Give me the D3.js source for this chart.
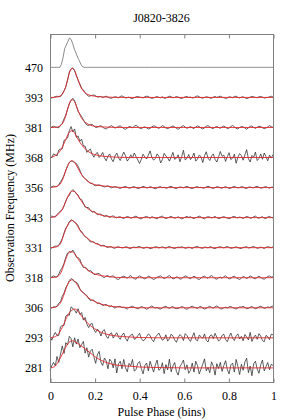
<!DOCTYPE html>
<html>
<head>
<meta charset="utf-8">
<script src="https://cdnjs.cloudflare.com/ajax/libs/d3/7.8.5/d3.min.js"></script>
<style>
body { margin: 0; background: #fff; }
svg { display: block; }
</style>
</head>
<body>
<div id="div_graph_id"></div>
<script>
// frequency labels, bottom (offset 0) to top (offset 10)
var freqLabels = ["281", "293", "306", "318", "331", "343", "356", "368", "381", "393", "470"];
var xTicks = [0, 0.2, 0.4, 0.6, 0.8, 1];
var title = "J0820-3826";

// observed profiles, 128 phase bins, in % of peak
var prof470 = [0,0,0,0,0,0,0,10,32,62, 74,86,98,93,78,60,47,33,22,10, 2,0,0,0,0,0,0,0,0,0,
  0,0,0,0,0,0,0,0,0,0, 0,0,0,0,0,0,0,0,0,0, 0,0,0,0,0,0,0,0,0,0, 0,0,0,0,0,0,0,0,0,0,
  0,0,0,0,0,0,0,0,0,0, 0,0,0,0,0,0,0,0,0,0, 0,0,0,0,0,0,0,0,0,0, 0,0,0,0,0,0,0,0,0,0,
  0,0,0,0,0,0,0,0,0,0, 0,0,0,0,0,0,0,0,0,0, 0,0,0,0,0,0,0,0];
var prof393 = [1,-2,0,3,4,2,3,11,23,35, 58,85,95,98,89,72,58,45,30,25, 15,9,4,5,7,8,5,1,2,3,
  -1,2,4,1,-2,-3,0,2,1,-1, 3,5,2,-2,-1,1,-3,-4,-1,2, 3,1,0,-2,2,4,3,-1,-3,-2, 1,3,0,-1,2,-3,-2,1,4,2,
  -1,0,3,1,-2,-4,-1,2,3,0, 1,-2,-1,3,5,2,-1,-3,0,2, 1,-2,-3,1,3,0,2,4,1,-1, -3,-2,2,1,-1,3,4,0,-2,1,
  2,-1,-4,-2,1,3,2,0,-1,2, 3,1,-2,-1,0,2,4,1];
var prof381 = [-3,2,4,2,0,-1,7,14,29,41, 61,78,90,97,89,72,53,45,36,26, 15,8,7,10,10,5,0,1,4,6,
  1,-3,-5,-1,3,6,2,-2,0,4, 5,1,-4,-6,-2,3,2,-1,4,7, 3,-2,-4,0,2,-1,-5,-3,2,5, 4,0,-3,1,6,3,-2,-4,-1,2,
  5,2,-3,-6,-2,4,6,1,-3,0, 3,-1,-4,2,5,3,-2,-5,-1,4, 6,2,-2,-4,1,3,0,-3,2,5, 1,-4,-2,3,7,2,-3,-5,0,3,
  2,-2,-6,-1,4,5,0,-3,1,4, 3,-1,-4,-2,2,6,3,0];
var prof368 = [5,-1,12,9,5,25,28,29,57,60, 65,89,103,85,95,67,72,54,61,38, 38,17,24,28,11,1,12,17,0,6,
  17,-1,-11,5,12,-5,-14,5,15,-1, -10,4,18,6,-12,-4,9,-2,15,3, -8,-20,-6,11,2,-5,8,22,1,-9,
  -3,12,4,-18,-7,14,5,-1,-12,2, 17,-6,-2,9,-14,3,24,-8,-3,10, -7,1,15,-12,-5,8,3,-17,6,19,
  -2,-10,5,12,-6,-15,2,20,4,8, -13,3,16,-7,-2,11,-19,1,13,6, -9,9,26,-4,-15,7,1,18,-10,-3,
  12,-6,15,3,-11,8,-2,10];
var prof356 = [-1,3,5,3,3,10,19,29,41,57, 72,84,89,87,84,80,71,58,43,35, 29,25,18,14,14,8,6,8,9,7,
  4,2,4,6,2,-1,1,3,2,-1, -3,0,2,4,1,-2,-1,2,3,0, -3,-2,1,4,2,-1,0,3,1,-2, -4,-1,2,3,0,1,-2,-1,3,4,
  1,-2,-3,0,2,1,-1,2,4,1, -2,-3,-1,2,3,0,1,-2,-1,2, 4,2,-1,-3,0,3,2,-1,-2,1, 3,0,-3,-2,2,4,1,-1,0,3,
  2,-2,-3,1,2,0,-1,3,4,1, -2,-1,2,3,0,-2,1,2];
var prof343 = [2,5,3,2,10,17,22,26,39,56, 68,74,87,93,88,79,75,62,60,48, 35,34,33,24,18,21,17,9,12,11,
  7,4,7,5,0,4,6,1,-1,2, 3,-1,-3,1,4,2,-2,0,3,5, 1,-3,-4,0,2,4,1,-2,3,1, -2,-4,1,3,5,0,-3,-1,2,4,
  1,-2,0,3,-1,-4,-2,2,4,1, 3,-1,-3,0,2,5,2,-2,-4,1, 3,2,-1,1,4,0,-3,-2,2,3, 1,-2,-4,-1,3,4,1,-1,2,0,
  -3,1,4,2,-2,-1,3,5,0,-2, 1,3,-2,-3,2,4,1,-1];
var prof331 = [1,-2,3,5,5,8,19,30,49,65, 73,86,93,90,84,81,73,59,54,45, 36,33,26,19,20,19,13,14,10,5,
  8,7,2,1,3,3,-1,-2,2,3, 1,-1,0,3,2,-2,-3,1,2,0, 3,4,1,-2,-1,2,0,-3,-2,1, 3,2,-1,1,3,0,-2,2,4,1,
  -1,-3,0,2,1,3,1,-2,-1,2, 0,-3,1,3,4,1,-1,-2,2,1, -1,3,2,-2,-3,0,2,3,1,-1, 2,4,1,-2,-1,1,3,0,-2,-3,
  1,2,3,-1,0,2,4,1,-2,-1, 2,0,-3,1,3,2,0,3];
var prof318 = [-2,3,6,3,2,12,25,34,48,68, 82,87,84,92,82,69,67,62,45,34, 34,31,22,24,19,11,11,14,14,8,
  3,0,6,7,2,5,6,1,-4,-6, -1,3,5,2,-2,4,7,1,-3,-5, 2,6,3,-1,-4,0,5,3,-2,-6, -3,2,4,6,1,-3,0,4,7,2,
  -4,-2,3,1,-5,-3,2,6,4,-1, -3,1,5,2,-4,-6,-1,3,5,1, -2,4,7,3,-3,-5,0,2,-2,4, 6,1,-4,-2,3,5,0,-3,-6,-1,
  4,2,-3,1,6,3,-2,-4,2,5, 1,-3,-5,0,4,6,2,3];
var prof306 = [1,-1,3,3,5,15,20,38,49,67, 77,91,97,94,86,85,78,63,54,51, 45,41,30,24,26,25,19,14,16,13,
  7,10,11,7,3,7,2,-1,3,4, 5,0,2,-2,-4,1,3,5,2,-1, -3,0,4,2,-1,-5,-2,3,6,2, -1,1,-3,-4,0,3,5,1,-2,2,
  4,-1,-3,-2,1,4,2,-3,-5,-1, 3,5,2,0,-2,3,4,-1,-4,-2, 2,5,1,-1,3,6,2,-3,-4,0, 2,-1,3,4,1,-2,-4,-1,3,2,
  5,1,-3,-2,2,4,0,-3,-1,3, 5,2,-2,0,3,1,4,6];
var prof293 = [6,-8,7,18,7,8,37,41,42,72, 77,75,103,98,92,82,97,78,84,59, 68,46,34,45,48,27,18,29,22,6,
  23,27,6,-2,12,17,-1,9,17,3, -5,9,16,-1,-11,4,9,12,-5,-2, 7,15,-2,-10,-6,4,13,8,-5,-13,
  2,9,16,3,-8,-4,10,-11,-3,12, 6,-7,-15,1,11,5,-9,14,8,-4, -12,3,17,-6,-10,9,4,-2,13,-8,
  -14,6,10,-3,15,2,-11,-5,8,12, -6,-13,4,16,-1,-9,7,13,-4,5, -10,11,3,-7,18,-12,2,9,-5,14,
  6,-9,-13,8,4,-6,12,10];
var prof281 = [-8,7,18,7,38,18,46,73,48,84, 76,105,97,70,100,79,96,67,77,88, 49,67,36,56,62,37,15,44,55,19,
  8,33,23,-3,29,21,0,30,-17,13, 22,-3,28,0,-13,15,7,28,-11,-5, 15,21,-2,-20,8,16,-10,22,4,-14,
  10,26,-8,-3,17,-19,11,-7,29,-13, 6,18,-12,-24,4,14,26,-6,10,-18, -8,16,-14,22,8,-20,-4,12,30,-10,
  2,-16,20,6,-24,14,-2,18,-12,8, 24,-6,-20,10,16,-14,28,4,-22,12, -8,20,32,-16,6,-26,14,22,-4,-18,
  10,26,-10,4,18,-6,12,8];

// fitted scattering profiles (red), sampled at these phases
var fitPhase = [0, .02, .03, .04, .05, .06, .07, .08, .09, .10, .11, .12, .13, .14, .16, .18, .20, .23, .26, .30, .35, .40, .50, .60, .80, 1];
var fit393 = [0,0,1,3,7,16,34,62,88,97,90,70,49,32,14,7,4,2,1,0,0,0,0,0,0,0];
var fit381 = [0,0,1,3,8,18,37,64,86,92,86,68,49,33,16,8,4,2,1,0,0,0,0,0,0,0];
var fit368 = [0,5,10,17,27,42,59,76,87,89,82,68,55,44,27,16,10,5,3,1,0,0,0,0,0,0];
var fit356 = [0,2,4,8,16,33,55,74,86,89,84,72,58,45,27,16,10,6,4,1,0,0,0,0,0,0];
var fit343 = [0,3,7,13,22,35,52,70,83,88,87,79,67,56,36,25,17,8,4,1,0,0,0,0,0,0];
var fit331 = [0,1,3,7,18,40,60,76,87,90,86,76,63,51,37,24,16,7,3,1,0,0,0,0,0,0];
var fit318 = [0,1,3,7,18,38,60,78,86,86,80,69,58,47,31,20,13,7,4,1,0,0,0,0,0,0];
var fit306 = [0,1,4,10,20,38,60,79,90,93,89,79,67,56,42,29,21,12,7,3,1,0,0,0,0,0];
var fit293 = [0,3,7,14,28,42,60,76,87,93,96,93,84,74,56,41,30,18,11,6,3,1,0,0,0,0];
var fit281 = [0,4,12,25,38,53,68,80,88,90,88,84,79,73,62,50,38,25,16,9,6,3,1,0,0,0];

var profiles = [prof281, prof293, prof306, prof318, prof331, prof343, prof356, prof368, prof381, prof393, prof470];
var fits = [fit281, fit293, fit306, fit318, fit331, fit343, fit356, fit368, fit381, fit393, null];

var serif = '"Liberation Serif", "Times New Roman", Tinos, "DejaVu Serif", serif';

var scatter = {};

scatter.init = function() {
    var W = 294, H = 420;
    var margin = {top: 34, right: 21, bottom: 38, left: 50};
    var width = W - margin.left - margin.right;
    var height = H - margin.top - margin.bottom;

    var svg = d3.select("#div_graph_id")
        .append("svg")
        .attr("width", W)
        .attr("height", H)
        .attr("font-family", serif);

    var g = svg.append("g")
        .attr("transform", "translate(" + margin.left + "," + margin.top + ")");

    var x = d3.scaleLinear().domain([0, 1]).range([0, width]);
    var y = d3.scaleLinear().domain([-0.47, 11.11]).range([height, 0]);

    var line = d3.line()
        .x(function(d) { return x(d[0]); })
        .y(function(d) { return y(d[1]); });
    var smooth = d3.line()
        .curve(d3.curveMonotoneX)
        .x(function(d) { return x(d[0]); })
        .y(function(d) { return y(d[1]); });

    // observed profiles
    profiles.forEach(function(p, k) {
        var n = p.length;
        g.append("path")
            .datum(p.map(function(v, i) { return [i / (n - 1), k + v / 100]; }))
            .attr("d", line)
            .attr("fill", "none")
            .attr("stroke", k === 10 ? "#666" : "#2a2a2a")
            .attr("stroke-width", 0.75);
    });

    // fitted curves on top
    fits.forEach(function(f, k) {
        if (!f) return;
        g.append("path")
            .datum(fitPhase.map(function(ph, j) { return [ph, k + f[j] / 100]; }))
            .attr("d", smooth)
            .attr("fill", "none")
            .attr("stroke", "#e3262b")
            .attr("stroke-width", 0.9);
    });

    // frame
    g.append("rect")
        .attr("x", 0.5).attr("y", 0.5)
        .attr("width", width).attr("height", height)
        .attr("fill", "none")
        .attr("stroke", "#808080")
        .attr("stroke-width", 1);

    // x axis (bottom, ticks inside)
    var xb = g.append("g")
        .attr("transform", "translate(0.5," + (height + 0.5) + ")")
        .call(d3.axisBottom(x).tickValues(xTicks).tickFormat(d3.format("")).tickSize(-4).tickPadding(9));
    var xt = g.append("g")
        .attr("transform", "translate(0.5,0.5)")
        .call(d3.axisTop(x).tickValues(xTicks).tickFormat("").tickSize(-4));

    // y axis labels
    var yl = g.append("g")
        .call(d3.axisLeft(y).tickValues(d3.range(freqLabels.length))
            .tickFormat(function(d) { return freqLabels[d]; })
            .tickSize(0).tickPadding(7));

    [xb, xt, yl].forEach(function(a) {
        a.attr("font-family", serif).attr("font-size", 12);
        a.select(".domain").remove();
        a.selectAll(".tick line").attr("stroke", "#808080");
        a.selectAll("text").attr("fill", "#000");
    });

    // title
    svg.append("text")
        .attr("x", margin.left + width / 2)
        .attr("y", 22)
        .attr("text-anchor", "middle")
        .attr("font-size", 12)
        .text(title);

    // x axis label
    svg.append("text")
        .attr("x", margin.left + width / 2)
        .attr("y", 416)
        .attr("text-anchor", "middle")
        .attr("font-size", 12)
        .text("Pulse Phase (bins)");

    // y axis label
    svg.append("text")
        .attr("transform", "rotate(-90)")
        .attr("x", -(margin.top + height / 2))
        .attr("y", 14)
        .attr("text-anchor", "middle")
        .attr("font-size", 12)
        .text("Observation Frequency (MHz)");
};

scatter.init();
</script>
</body>
</html>
